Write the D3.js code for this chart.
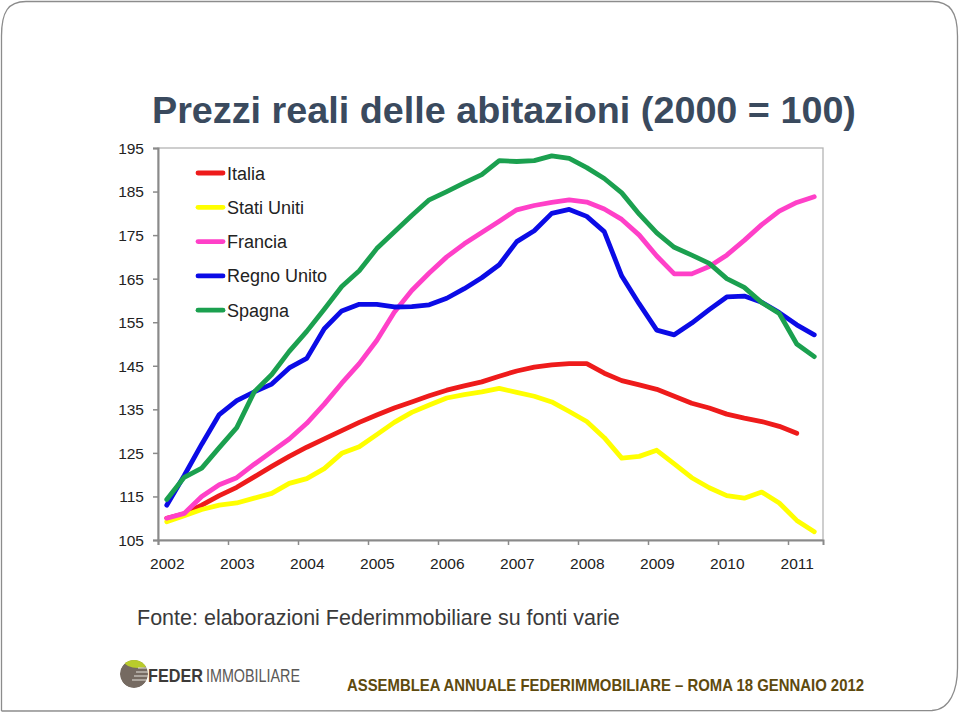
<!DOCTYPE html>
<html>
<head>
<meta charset="utf-8">
<script src="https://cdn.jsdelivr.net/npm/d3@7"></script>
<style>
  html, body { margin: 0; padding: 0; background: #fff; }
  svg { display: block; }
</style>
</head>
<body>
<svg id="chart" width="960" height="712"></svg>
<script>
// ---------------- DATA ----------------
const quarters = [
  "2002T1","2002T2","2002T3","2002T4","2003T1","2003T2","2003T3","2003T4",
  "2004T1","2004T2","2004T3","2004T4","2005T1","2005T2","2005T3","2005T4",
  "2006T1","2006T2","2006T3","2006T4","2007T1","2007T2","2007T3","2007T4",
  "2008T1","2008T2","2008T3","2008T4","2009T1","2009T2","2009T3","2009T4",
  "2010T1","2010T2","2010T3","2010T4","2011T1","2011T2"
];
const yearLabels = ["2002","2003","2004","2005","2006","2007","2008","2009","2010","2011"];
const yTicks = [105,115,125,135,145,155,165,175,185,195];

const italia = [110.0,111.0,113.0,115.2,117.1,119.5,121.9,124.2,126.3,128.2,130.1,132.0,133.7,135.3,136.7,138.1,
  139.4,140.4,141.3,142.6,143.8,144.7,145.2,145.5,145.5,143.3,141.6,140.6,139.6,138.0,136.4,135.3,133.9,133.0,132.2,131.1,129.5];
const statiUniti = [109.2,110.6,112.0,113.0,113.5,114.6,115.7,118.0,119.1,121.4,124.9,126.4,129.2,132.0,134.3,136.0,
  137.6,138.4,139.0,139.8,138.9,138.0,136.7,134.5,132.2,128.5,123.8,124.2,125.6,122.5,119.3,117.0,115.2,114.6,116.0,113.5,109.5,106.9];
const francia = [110.0,111.1,115.0,117.7,119.3,122.4,125.3,128.2,131.8,136.2,141.0,145.5,150.8,157.3,162.3,166.3,
  170.0,173.0,175.6,178.2,180.8,181.8,182.5,183.1,182.6,181.0,178.6,175.0,170.2,166.1,166.1,167.8,170.4,173.8,177.4,180.5,182.5,183.8];
const regnoUnito = [113.0,119.8,127.0,133.8,137.0,139.0,140.8,144.5,146.7,153.5,157.6,159.1,159.1,158.5,158.6,159.0,
  160.5,162.7,165.2,168.2,173.5,176.0,180.0,180.9,179.3,175.8,165.6,159.2,153.2,152.1,154.8,157.9,160.8,161.0,159.6,157.2,154.4,152.1];
const spagna = [114.3,119.4,121.5,126.2,130.8,139.0,143.0,148.3,152.9,158.0,163.2,166.8,171.9,175.7,179.5,183.1,
  185.0,187.0,188.9,192.1,191.9,192.1,193.2,192.6,190.5,188.0,184.7,179.8,175.5,172.2,170.4,168.5,165.0,163.0,159.5,157.0,150.0,147.1];

const seriesNames = ["Italia","Stati Uniti","Francia","Regno Unito","Spagna"];
const seriesValues = [italia, statiUniti, francia, regnoUnito, spagna];
const seriesColors = ["#ee1b1b","#ffff00","#ff40c8","#0b0be6","#1ba04f"];

// ---------------- LAYOUT ----------------
const svg = d3.select("#chart");
const FONT = "'Liberation Sans', Arial, Helvetica, sans-serif";

function fitWidth(t, w) {
  const L = t.node().getComputedTextLength();
  const fs = +t.attr("font-size");
  t.attr("font-size", fs * w / L);
}

// slide frame
svg.append("path")
  .attr("d", "M1.5,711 L1.5,36 C1.5,12 8,1.5 26,1.5 L932,1.5 C950,1.5 957.5,12 957.5,36 L957.5,668 C957.5,690 950,710 932,710.5 L1.5,711")
  .attr("fill", "none").attr("stroke", "#8c8c8c").attr("stroke-width", 1.3);

// title
const title = svg.append("text")
  .attr("x", 152).attr("y", 123)
  .attr("font-family", FONT).attr("font-weight", "bold")
  .attr("font-size", 37).attr("fill", "#3a4a5e")
  .text("Prezzi reali delle abitazioni (2000 = 100)");
fitWidth(title, 704);

const plot = {left: 158, right: 823, top: 148, bottom: 540};

const x = d3.scaleLinear().domain([0, quarters.length]).range([plot.left, plot.right]);
const y = d3.scaleLinear().domain([105, 195]).range([plot.bottom, plot.top]);

// plot border
svg.append("rect")
  .attr("x", plot.left).attr("y", plot.top)
  .attr("width", plot.right - plot.left).attr("height", plot.bottom - plot.top)
  .attr("fill", "none").attr("stroke", "#b4b4b4").attr("stroke-width", 1.3);

// y axis
const yAxis = svg.append("g")
  .attr("transform", `translate(${plot.left},0)`)
  .call(d3.axisLeft(y).tickValues(yTicks).tickSize(5).tickPadding(9));
yAxis.select(".domain").attr("stroke", "#8a8a8a").attr("stroke-width", 2);
yAxis.selectAll(".tick line").attr("stroke", "#8a8a8a").attr("stroke-width", 1.5);
yAxis.selectAll("text").attr("font-family", FONT).attr("font-size", 15.5).attr("fill", "#222").attr("dy", "0.35em");

// x axis: ticks at year boundaries, labels at first quarter
const halfQ = x(0.5) - x(0);
const xAxis = svg.append("g")
  .attr("transform", `translate(0,${plot.bottom})`)
  .call(d3.axisBottom(x)
    .tickValues(yearLabels.map((_, k) => k * 4))
    .tickFormat((d) => yearLabels[d / 4])
    .tickSize(5).tickPadding(13));
xAxis.select(".domain").attr("stroke", "#8a8a8a").attr("stroke-width", 2);
xAxis.selectAll(".tick line").attr("stroke", "#8a8a8a").attr("stroke-width", 1.5);
xAxis.selectAll("text").attr("font-family", FONT).attr("font-size", 15.5).attr("fill", "#222").attr("dx", halfQ);

// lines
const line = d3.line()
  .x((d, i) => x(i + 0.5))
  .y((d) => y(d))
  .curve(d3.curveLinear);

seriesValues.forEach((vals, k) => {
  svg.append("path")
    .datum(vals)
    .attr("d", line)
    .attr("fill", "none")
    .attr("stroke", seriesColors[k])
    .attr("stroke-width", 4.8)
    .attr("stroke-linejoin", "round")
    .attr("stroke-linecap", "round");
});

// legend
const legend = svg.append("g");
seriesNames.forEach((name, k) => {
  const ly = 173 + k * 34.3;
  legend.append("line")
    .attr("x1", 198).attr("x2", 223).attr("y1", ly).attr("y2", ly)
    .attr("stroke", seriesColors[k]).attr("stroke-width", 4.8).attr("stroke-linecap", "round");
  legend.append("text")
    .attr("x", 227).attr("y", ly + 6.5)
    .attr("font-family", FONT).attr("font-size", 18).attr("fill", "#222")
    .text(name);
});

// source
const src = svg.append("text")
  .attr("x", 137).attr("y", 625)
  .attr("font-family", FONT).attr("font-size", 20).attr("fill", "#3a3a3a")
  .text("Fonte: elaborazioni Federimmobiliare su fonti varie");
fitWidth(src, 483);

// logo
const logo = svg.append("g");
logo.append("clipPath").attr("id", "lc").append("circle").attr("cx", 134).attr("cy", 674).attr("r", 14);
const lg = logo.append("g").attr("clip-path", "url(#lc)");
lg.append("circle").attr("cx", 134).attr("cy", 674).attr("r", 14).attr("fill", "#756a61");
lg.append("ellipse").attr("cx", 138).attr("cy", 661).attr("rx", 14).attr("ry", 7).attr("fill", "#b9cb2c");
[668, 672, 676, 680].forEach((yy, i) => {
  lg.append("line").attr("x1", 138 - i * 2).attr("x2", 150).attr("y1", yy).attr("y2", yy)
    .attr("stroke", "#e6e2dc").attr("stroke-width", 1.2);
});
logo.append("text")
  .attr("x", 148).attr("y", 682)
  .attr("font-family", FONT).attr("font-size", 18).attr("font-weight", "bold").attr("fill", "#3c3a38")
  .attr("textLength", 55).attr("lengthAdjust", "spacingAndGlyphs")
  .text("FEDER");
logo.append("text")
  .attr("x", 206).attr("y", 682)
  .attr("font-family", FONT).attr("font-size", 18).attr("font-weight", "normal").attr("fill", "#5a5856")
  .attr("textLength", 94).attr("lengthAdjust", "spacingAndGlyphs")
  .text("IMMOBILIARE");

// footer
svg.append("text")
  .attr("x", 347).attr("y", 691)
  .attr("font-family", "'Liberation Sans Narrow', 'Arial Narrow', " + FONT)
  .attr("font-weight", "bold").attr("font-size", 16.5).attr("fill", "#5e4a0e")
  .attr("textLength", 517).attr("lengthAdjust", "spacingAndGlyphs")
  .text("ASSEMBLEA ANNUALE FEDERIMMOBILIARE – ROMA 18 GENNAIO 2012");
</script>
</body>
</html>
